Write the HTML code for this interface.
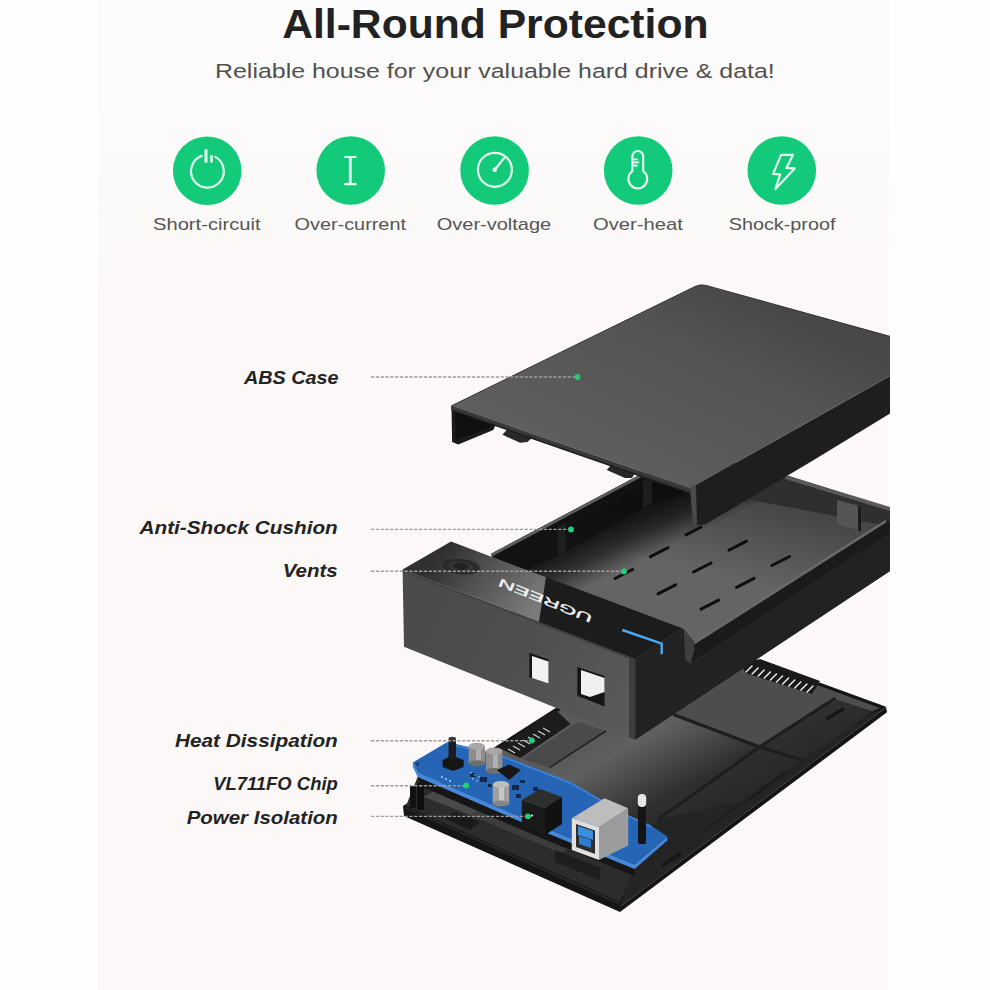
<!DOCTYPE html>
<html><head><meta charset="utf-8">
<style>
html,body{margin:0;padding:0;background:#fdfefe;}
body{width:990px;height:990px;overflow:hidden;position:relative;font-family:"Liberation Sans",sans-serif;}
#panel{position:absolute;left:98px;top:0;width:791px;height:990px;background:linear-gradient(#fdfcfc,#fbf8f7 30%,#fbf8f7);}
svg{position:absolute;left:0;top:0;}
</style></head>
<body>
<div id="panel"></div>
<svg width="990" height="990" viewBox="0 0 990 990">
<defs>
  <linearGradient id="lidTop" x1="740" y1="290" x2="650" y2="484" gradientUnits="userSpaceOnUse">
    <stop offset="0" stop-color="#484848"/><stop offset="0.35" stop-color="#545454"/><stop offset="0.55" stop-color="#575757"/><stop offset="1" stop-color="#5e5e5e"/>
  </linearGradient>
  <linearGradient id="trayFloor" x1="559" y1="555" x2="577" y2="592" gradientUnits="userSpaceOnUse">
    <stop offset="0" stop-color="#1a1a1a"/><stop offset="0.4" stop-color="#2c2c2c"/><stop offset="1" stop-color="#646464"/>
  </linearGradient>
  <linearGradient id="floorBack" x1="770" y1="505" x2="750" y2="585" gradientUnits="userSpaceOnUse">
    <stop offset="0" stop-color="#000" stop-opacity="0.3"/><stop offset="1" stop-color="#000" stop-opacity="0"/>
  </linearGradient>
  <linearGradient id="floorShade" x1="700" y1="490" x2="720" y2="560" gradientUnits="userSpaceOnUse">
    <stop offset="0" stop-color="#000" stop-opacity="0.3"/><stop offset="1" stop-color="#000" stop-opacity="0"/>
  </linearGradient>
  <linearGradient id="blockFront" x1="405" y1="600" x2="630" y2="720" gradientUnits="userSpaceOnUse">
    <stop offset="0" stop-color="#4a4a4a"/><stop offset="0.5" stop-color="#4f4f4f"/><stop offset="1" stop-color="#5a5a5a"/>
  </linearGradient>
  <linearGradient id="blockTop" x1="450" y1="545" x2="530" y2="612" gradientUnits="userSpaceOnUse">
    <stop offset="0" stop-color="#303030"/><stop offset="0.4" stop-color="#505050"/><stop offset="1" stop-color="#7a7a7a"/>
  </linearGradient>
  <linearGradient id="baseFloor" x1="620" y1="730" x2="680" y2="840" gradientUnits="userSpaceOnUse">
    <stop offset="0" stop-color="#5a5a5a"/><stop offset="0.14" stop-color="#606060"/><stop offset="0.33" stop-color="#4f4f4f"/><stop offset="0.65" stop-color="#2f2f2f"/><stop offset="1" stop-color="#272727"/>
  </linearGradient>
</defs>

<!-- ============ BASE (bottom tray) ============ -->
<g id="base">
  <polygon points="403,806 565,702 678,630 759,660.5 886,706.8 887,712.3 620,912 404,816" fill="#151515"/>
  <polygon points="412,804 570,704 680,636 757,665 877,708.5 619,899" fill="url(#baseFloor)"/>
  <!-- lighter back plate -->
  <polygon points="674.7,715 759.6,747 834.3,698.8 872,711 880,708 760,664 700,672" fill="#4d4d4d"/>
  <!-- inner ledge right -->
  <polygon points="886,707 874,712 802,760 746.5,801 658.6,819 640,838 620.5,906" fill="#242424"/>
  <!-- ribs -->
  <g stroke="#1e1e1e" stroke-width="3.2" fill="none" stroke-linecap="round">
    <line x1="674.7" y1="715" x2="759.6" y2="747"/>
    <line x1="759.6" y1="747" x2="834.3" y2="698.8"/>
    <line x1="759.6" y1="747" x2="802" y2="760"/>
    <line x1="759.6" y1="747" x2="658.6" y2="819"/>
  </g>
  <g stroke="#1a1a1a" stroke-width="2.2" fill="none" stroke-dasharray="2,1.5">
    <line x1="704" y1="830.6" x2="784.5" y2="772"/>
    <line x1="746.5" y1="801.3" x2="790" y2="770"/>
  </g>
  <g stroke="#454545" stroke-width="1" fill="none">
    <line x1="886" y1="707.5" x2="621" y2="906"/>
  </g>
  <g fill="#161616">
    <polygon points="825,718 843,707 845,710 827,721"/>
    <polygon points="661,864 680,852 682,855 663,867"/>
  </g>
  <!-- SATA pins (right back) -->
  <polygon points="742,664 760,659 820,681 812,694 745,673" fill="#1a1a1a"/>
  <g stroke="#ececec" stroke-width="1.5" stroke-linecap="round"><line x1="746.0" y1="672.0" x2="752.0" y2="666.0"/><line x1="752.1" y1="674.0" x2="758.1" y2="668.0"/><line x1="758.2" y1="676.0" x2="764.2" y2="670.0"/><line x1="764.3" y1="678.0" x2="770.3" y2="672.0"/><line x1="770.4" y1="680.0" x2="776.4" y2="674.0"/><line x1="776.5" y1="682.0" x2="782.5" y2="676.0"/><line x1="782.6" y1="684.0" x2="788.6" y2="678.0"/><line x1="788.7" y1="686.0" x2="794.7" y2="680.0"/><line x1="794.8" y1="688.0" x2="800.8" y2="682.0"/><line x1="800.9" y1="690.0" x2="806.9" y2="684.0"/><line x1="807.0" y1="692.0" x2="813.0" y2="686.0"/></g>
  <!-- front-right dark floor strip -->
    <!-- front-left interior under PCB -->
  <polygon points="406,806 418,776 545.5,832 634.5,868 620,902" fill="#2c2c2c"/>
  <polygon points="424,797 470,815 482,809 436,790" fill="#4a4a4a"/>
  <polygon points="470,815 560,853 575,846 482,809" fill="#3c3c3c"/>
  <polygon points="455,812 480,822 470,830 445,819" fill="#1a1a1a"/>
  <polygon points="555,850 600,868 600,880 555,862" fill="#1e1e1e"/>
  <!-- left posts -->
  <rect x="410" y="786" width="6" height="22" fill="#121212"/>
  <rect x="417" y="783" width="7" height="27" rx="2" fill="#0f0f0f"/>
  <!-- front rim highlight -->
  <polygon points="403,806 620,903 620,905 404,808" fill="#2a2a2a"/>
</g>

<!-- ============ PCB ============ -->
<g id="pcb">
  <!-- SATA connector (left) -->
  <polygon points="497.8,747.4 556,710 570.5,724 520.4,757.9" fill="#1c1c1c"/>
  <polygon points="522,759 578,722 606,731 549.5,767.6" fill="#4a4a4a"/>
  <g stroke="#222" stroke-width="1.6"><line x1="549.5" y1="767.6" x2="606" y2="731"/></g>
  <g stroke="#d8d8d8" stroke-width="1.1">
    <line x1="508" y1="749" x2="515" y2="753"/><line x1="513" y1="746" x2="520" y2="750"/>
    <line x1="518" y1="743" x2="525" y2="747"/><line x1="523" y1="740" x2="530" y2="744"/>
    <line x1="528" y1="737" x2="535" y2="741"/><line x1="533" y1="734" x2="540" y2="738"/>
    <line x1="538" y1="731" x2="545" y2="735"/><line x1="543" y1="728" x2="550" y2="732"/>
  </g>
  <!-- shadow under board -->
  <polygon points="417.7,772.4 545.5,828 634.5,864.5 634.5,876 545.5,840 420,786" fill="#161616"/>
  <!-- board front face -->
  <polygon points="412.8,762.5 417.7,772.4 545.5,828 634.5,864.5 667.3,836.4 667.3,840.5 634.5,869 545.5,832.5 417.7,777 412.8,767" fill="#4689dc"/>
  <!-- board top -->
  <polygon points="447.4,742 501,755 570.5,782 628,815 651,825.5 667.3,836.4 634.5,864.5 545.5,828 417.7,772.4 412.8,762.5" fill="#2665b5"/>
  <polygon points="447.4,742 501,755 570.5,782 628,815 651,825.5 651,827.5 628,817 570.5,784 501,757 446,744" fill="#3f80d4"/>
  <circle cx="417.5" cy="764" r="1.8" fill="#1a3d70"/>
  <!-- components -->
  <polygon points="442.5,760 452,755.5 463.7,760 463.7,767 453,771 442.5,767" fill="#161616"/>
  <rect x="448.5" y="737.5" width="7.5" height="21" rx="3" fill="#1d1d1d"/>
  <ellipse cx="452.2" cy="738.5" rx="3.7" ry="1.8" fill="#3a3a3a"/>
  <rect x="468.6" y="746.2" width="16.4" height="17" fill="#8e8e8e"/>
  <rect x="476" y="746.2" width="5" height="17" fill="#b0b0b0"/>
  <ellipse cx="476.8" cy="763.2" rx="8.2" ry="3" fill="#6e6e6e"/>
  <ellipse cx="476.8" cy="746.2" rx="8.2" ry="3.5" fill="#a8a8a8"/>
  <rect x="485.8" y="751" width="16.6" height="20" fill="#8e8e8e"/>
  <rect x="493" y="751" width="5" height="20" fill="#b0b0b0"/>
  <ellipse cx="494.1" cy="771" rx="8.3" ry="3" fill="#6e6e6e"/>
  <ellipse cx="494.1" cy="751" rx="8.3" ry="3.5" fill="#a8a8a8"/>
  <polygon points="497,770 509,764.6 521,770 509,780" fill="#161616"/>
  <g fill="#12284f">
    <rect x="470" y="773" width="6" height="4"/><rect x="480" y="777" width="7" height="5"/>
    <rect x="512" y="785" width="7" height="5"/><rect x="516" y="794" width="5" height="4"/>
    <rect x="533" y="787" width="5" height="4"/><rect x="551" y="797" width="6" height="4"/>
    <rect x="488" y="784" width="4" height="3"/><rect x="520" y="780" width="5" height="3"/>
  </g>
  <g fill="#9fc3ee" opacity="0.8">
    <rect x="441" y="776" width="2" height="2"/><rect x="445" y="778" width="2" height="2"/><rect x="449" y="780" width="2" height="2"/>
    <rect x="470" y="772" width="1.6" height="1.6"/><rect x="474" y="774" width="1.6" height="1.6"/><rect x="478" y="776" width="1.6" height="1.6"/>
    <rect x="472" y="778" width="1.6" height="1.6"/><rect x="476" y="780" width="1.6" height="1.6"/>
  </g>
  <rect x="492.7" y="784.4" width="16.5" height="19" fill="#a0a0a0"/>
  <rect x="499" y="784.4" width="5" height="19" fill="#c8c8c8"/>
  <ellipse cx="501" cy="803.4" rx="8.2" ry="3" fill="#858585"/>
  <ellipse cx="501" cy="784.4" rx="8.2" ry="3.5" fill="#bdbdbd"/>
  <!-- DC jack -->
  <polygon points="521.8,800 545,808 545,835 521.8,826" fill="#1a1a1a"/>
  <polygon points="521.8,800 540,789 562,797 545,808" fill="#2e2e2e"/>
  <polygon points="545,808 562,797 562,824 545,835" fill="#111"/>
  <circle cx="530.5" cy="816" r="3.6" fill="#0a0a0a"/>
  <circle cx="532" cy="815.5" r="1.2" fill="#cfcfcf"/>
  <!-- USB-B -->
  <polygon points="571.8,818.2 604.5,798.2 628.2,808.2 599,827.3" fill="#bdbdbd"/>
  <polygon points="599,827.3 628.2,808.2 628.2,845.5 599,860" fill="#9c9c9c"/>
  <polygon points="571.8,818.2 599,827.3 599,860 571.8,850" fill="#e0e0e0"/>
  <polygon points="576,824 595,830.5 595,854 576,847" fill="#2f2f2f"/>
  <polygon points="578,826 593,831 593,840 578,835" fill="#3b8ee0"/>
  <polygon points="579,836 591,840 591,848 579,844" fill="#2f7dd0"/>
  <!-- LED post -->
  <rect x="638" y="803" width="8" height="41" rx="2" fill="#141414"/>
  <rect x="637.8" y="794" width="8.4" height="13" rx="4" fill="#e6e6e6"/>
</g>

<!-- ============ TRAY (middle) ============ -->
<g id="tray">
  <polygon points="490.9,553.9 640,474.8 700,455 789,476 890,508 890,571 635.4,739.5 520,640" fill="#1b1b1b"/>
  <!-- back wall inner face -->
  <polygon points="700,470 785,478 890,510 890,527 700,490" fill="#2f2f2f"/>
  <!-- back rim -->
  <polygon points="785,475 890,507 890,511 785,479" fill="#5a5a5a"/>
  <!-- floor -->
  <polygon points="498,566 649.7,481.8 700,490 886,526 694.3,643 682.9,628.5" fill="url(#trayFloor)"/>
  <!-- left wall inner face -->
  <polygon points="490.9,553.9 640,474.8 700,470 700,488 644.5,508 559,555.5 520,572" fill="#121212"/>
  <polygon points="649.7,481.8 700,490 886,526 694.3,643 682.9,628.5 498,566" fill="url(#floorBack)"/>
  <polygon points="490.9,553.9 640,474.8 641,477.3 492,556.4" fill="#5e5e5e"/>
  <!-- cushion tabs on left wall -->
  <polygon points="558,527 566,523 566,553 558,557" fill="#1e1e1e"/>
  <polygon points="643,480 652,476 652,503 643,508" fill="#1e1e1e"/>
  <!-- right wall top + rail -->
  <polygon points="682.9,628.5 694.3,643 886,521 890,522 890,534 689.5,664.3 684.6,660" fill="#1a1a1a"/>
  <polygon points="694.3,641.5 886,519.5 886,522.5 694.3,644.5" fill="#6a6a6a"/>
  <polygon points="683.5,628.8 694.3,641.5 694.3,650 690.5,664 685,660" fill="#3e3e3e"/>
  <polyline points="689.5,664.3 890,533.5" fill="none" stroke="#3a3a3a" stroke-width="1"/>
  <!-- vents -->
  <g stroke="#0e0e0e" stroke-width="3" stroke-linecap="round">
    <line x1="615" y1="578.5" x2="632.6" y2="569.5"/>
    <line x1="650.5" y1="556.7" x2="668.1" y2="547.7"/>
    <line x1="686" y1="534.9" x2="701" y2="527"/>
    <line x1="658" y1="593.8" x2="675.6" y2="584.8"/>
    <line x1="693.5" y1="572" x2="711.1" y2="563"/>
    <line x1="729" y1="550.2" x2="746.6" y2="541.2"/>
    <line x1="701" y1="609.1" x2="718.6" y2="600.1"/>
    <line x1="736.5" y1="587.3" x2="754.1" y2="578.3"/>
    <line x1="772" y1="565.5" x2="789.6" y2="556.5"/>
  </g>
  <!-- back-right corner tab -->
  <polygon points="837,500 860,506 860,531 837,524" fill="#555"/><polygon points="858,505.5 861,506.5 861,531.5 858,530.5" fill="#1a1a1a"/>
</g>

<!-- ============ FRONT BLOCK ============ -->
<g id="block">
  <polygon points="635.4,658.8 682.9,628.5 684.6,660 689.5,664.3 890,533 890,571 635.4,739.5" fill="#222"/>
  <polygon points="402.6,569.4 634.4,658.8 634.4,739.5 404,646.7" fill="url(#blockFront)"/>
  <polygon points="629,657 635.5,659 635.5,739.5 629,737.5" fill="#3e3e3e"/>
  <polygon points="402.6,569.4 451,541.5 682.9,628.5 634.4,658.8" fill="url(#blockTop)"/>
  <polygon points="546,577 682.9,628.5 634.4,658.8 539,622" fill="#1c1c1c"/>
  <polygon points="402.6,569.4 634.4,658.8 634.4,661 402.6,571.5" fill="#3a3a3a" opacity="0.6"/>
  <!-- holes -->
  <polygon points="529.4,652.7 548.5,659.4 548.5,683.6 529.4,677.6" fill="#151515"/>
  <polygon points="532,656 548.5,661.5 548.5,683.6 532,678" fill="#f4f2f1"/>
  <polygon points="577.3,667 604.5,676 604.5,706.4 577.3,695.8" fill="#151515"/>
  <polygon points="581,670 604.5,678 604.5,692 590,697 581,694" fill="#f2f0ef"/>
  <!-- power button -->
  <g transform="rotate(6 460.6 566.5)">
    <ellipse cx="460.6" cy="566.5" rx="19.4" ry="8.1" fill="#2a2a2a" stroke="#3d3d3d" stroke-width="1"/>
    <ellipse cx="460.6" cy="566.3" rx="13" ry="5.4" fill="#333"/>
    <ellipse cx="460.6" cy="566.3" rx="7.3" ry="3.6" fill="#232323"/>
  </g>
  <!-- logo -->
  <text x="0" y="4" font-family="Liberation Sans, sans-serif" font-size="11.5" fill="#f4f4f4" stroke="#f4f4f4" stroke-width="0.3" textLength="100" lengthAdjust="spacingAndGlyphs" text-anchor="middle" transform="translate(545.3,600.5) rotate(202)">UGREEN</text>
  <!-- led -->
  <polyline points="622.3,630 661.7,643.6 661.7,654.2" fill="none" stroke="#49a8f0" stroke-width="2.4"/>
</g>

<!-- ============ LID ============ -->
<g id="lid">
  <polygon points="451.5,405.8 452.1,442.1 458.2,444.5 493.3,430 497,422" fill="#1a1a1a"/>
  <polygon points="455,412 456,440 490,427 493,422" fill="#101010"/>
  <polygon points="502.4,434.8 507.9,428.8 532,437.9 527.3,442.1 520,442.7" fill="#282828"/>
  <polygon points="606.7,470 612,464 635.5,472 632,478 625,478" fill="#282828"/>
  <polygon points="690,488.5 760,449 890,376 890,413.5 813.8,460 705,524.5 693,525" fill="#1e1e1e"/>
  <polygon points="690,488.5 696,485.5 697,524.5 693,525" fill="#4a4a4a"/>
  <polygon points="451.5,405.8 690,488.5 690,494 451.5,411" fill="#1c1c1c"/>
  <polygon points="451.5,405.8 690,488.5 690,492.5 451.5,409.5" fill="#383838"/>
  <path d="M451.5,405.8 L695,286.5 Q700.6,283.9 706,285.4 L890,336 L890,376 L760,449 L690,488.5 Z" fill="url(#lidTop)"/>
  <path d="M451.5,405.8 L695,286.5 Q700.6,283.9 706,285.4 L890,336.5" fill="none" stroke="#363636" stroke-width="1"/>
</g>

<!-- ============ CALLOUTS ============ -->
<g stroke="#9c9c9c" stroke-width="1.4" stroke-dasharray="3.2,1.6" fill="none">
  <line x1="371" y1="377" x2="576" y2="377"/>
  <line x1="371" y1="529.4" x2="570" y2="529.4"/>
  <line x1="371" y1="571.2" x2="623" y2="571.2"/>
  <line x1="371" y1="740.8" x2="531" y2="740.8"/>
  <line x1="371" y1="785.7" x2="466" y2="785.7"/>
  <line x1="371" y1="816.4" x2="528" y2="816.4"/>
</g>
<g fill="#22cf78">
  <circle cx="577.5" cy="377" r="2.9"/>
  <circle cx="571" cy="529.4" r="2.9"/>
  <circle cx="624" cy="571.5" r="2.9"/>
  <circle cx="531.7" cy="740.5" r="2.9"/>
  <circle cx="466.2" cy="785.5" r="2.9"/>
  <circle cx="528" cy="816.3" r="2.9"/>
</g>

<!-- ============ ICONS ============ -->
<g fill="#12ca79">
  <circle cx="207.2" cy="170.8" r="34.3"/>
  <circle cx="350.7" cy="170.5" r="34.3"/>
  <circle cx="494.6" cy="170.5" r="34.3"/>
  <circle cx="638.2" cy="170.5" r="34.3"/>
  <circle cx="781.8" cy="170.5" r="34.3"/>
</g>
<g fill="none" stroke="#e2fdef" stroke-width="2.2" stroke-linecap="round" stroke-linejoin="round">
  <path d="M201.7,155.9 A16.4,16.4 0 1 0 215.3,156.9"/>
  <line x1="206" y1="150.3" x2="206" y2="161.4" stroke-width="3"/>
  <line x1="211.6" y1="156.4" x2="211.6" y2="161.5" stroke-width="2.7"/>
  <line x1="350.3" y1="157" x2="350.3" y2="184.2" stroke-width="2.9" stroke-linecap="butt"/>
  <line x1="345" y1="157" x2="355.6" y2="157"/>
  <line x1="345" y1="184.2" x2="355.6" y2="184.2"/>
  <circle cx="494.9" cy="169.8" r="17"/>
  <line x1="494.7" y1="169.7" x2="505.2" y2="156.8"/>
  <path d="M632.4,171.2 V156.4 A5.4,5.4 0 0 1 643.2,156.4 V171.2 A9.4,9.4 0 1 1 632.4,171.2 Z"/>
  <line x1="632.6" y1="159.4" x2="637" y2="159.4" stroke-width="1.8"/>
  <line x1="632.6" y1="162.4" x2="638.5" y2="162.4" stroke-width="1.8"/>
  <line x1="632.6" y1="165.5" x2="637" y2="165.5" stroke-width="1.8"/>
  <path d="M781.1,154.9 L793,154.9 L786.4,167.9 L794.7,168.4 L775.4,189 L780.2,174.3 L773.1,173.9 Z"/>
</g>
<circle cx="494.7" cy="169.7" r="2.3" fill="#e6fff2"/>

<!-- ============ TEXT ============ -->
<g font-family="Liberation Sans, sans-serif">
  <text x="282.2" y="37.6" font-size="40.5" font-weight="bold" fill="#222" textLength="426.3" lengthAdjust="spacingAndGlyphs">All-Round Protection</text>
  <text x="215" y="78.2" font-size="20.5" fill="#505050" textLength="559.8" lengthAdjust="spacingAndGlyphs">Reliable house for your valuable hard drive &amp; data!</text>
  <g font-size="17" fill="#555">
    <text x="153" y="230.3" textLength="107.5" lengthAdjust="spacingAndGlyphs">Short-circuit</text>
    <text x="294.5" y="230.3" textLength="111.5" lengthAdjust="spacingAndGlyphs">Over-current</text>
    <text x="436.8" y="230.3" textLength="114.3" lengthAdjust="spacingAndGlyphs">Over-voltage</text>
    <text x="593" y="230.3" textLength="89.8" lengthAdjust="spacingAndGlyphs">Over-heat</text>
    <text x="728.7" y="230.3" textLength="106.8" lengthAdjust="spacingAndGlyphs">Shock-proof</text>
  </g>
  <g font-size="17.8" font-weight="bold" font-style="italic" fill="#232323">
    <text x="244" y="383.6" textLength="94.6" lengthAdjust="spacingAndGlyphs">ABS Case</text>
    <text x="139.5" y="534.2" textLength="198.3" lengthAdjust="spacingAndGlyphs">Anti-Shock Cushion</text>
    <text x="282.7" y="577.3" textLength="55.1" lengthAdjust="spacingAndGlyphs">Vents</text>
    <text x="175" y="747.3" textLength="162.8" lengthAdjust="spacingAndGlyphs">Heat Dissipation</text>
    <text x="213.2" y="789.5" textLength="124.6" lengthAdjust="spacingAndGlyphs">VL711FO Chip</text>
    <text x="186.7" y="823.6" textLength="151.1" lengthAdjust="spacingAndGlyphs">Power Isolation</text>
  </g>
</g>
</svg>
</body></html>
